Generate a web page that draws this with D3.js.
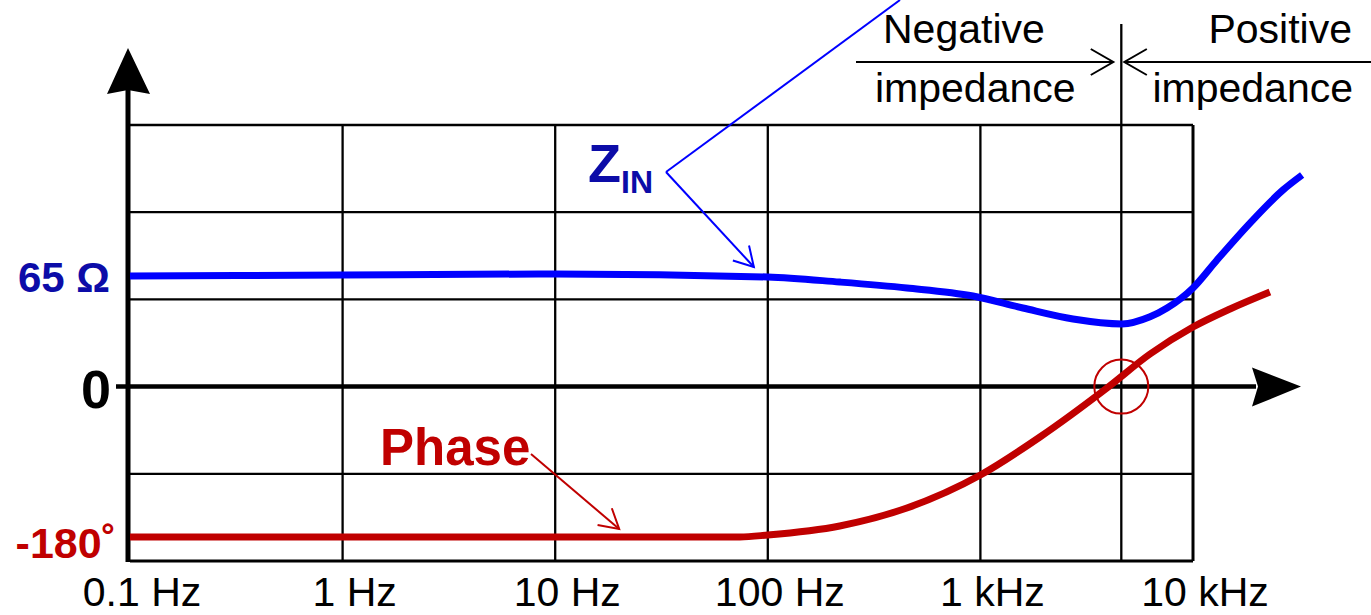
<!DOCTYPE html>
<html>
<head>
<meta charset="utf-8">
<script src="https://cdn.jsdelivr.net/npm/d3@7"></script>
<style>
  body { margin: 0; background: #fff; }
  svg { display: block; font-family: "Liberation Sans", Arial, sans-serif; }
</style>
</head>
<body>
<svg id="chart" width="1371" height="615"></svg>
<script>
// decade ticks on the frequency axis
const freqTicks = [0.1, 1, 10, 100, 1000, 10000];
const tickLabels = ["0.1 Hz", "1 Hz", "10 Hz", "100 Hz", "1 kHz", "10 kHz"];
// horizontal grid rows (in grid units, 0 = zero axis)
const gridRows = [-2, -1, 0, 1, 2, 3];

// input impedance magnitude (ohms) vs frequency (Hz)
const zinFreq = [0.1, 1, 10, 100, 218, 451, 923, 1585, 2728, 4634, 6280, 7550, 10000, 12970, 18540, 26500, 32600];
const zinOhm  = [65.6, 66.2, 66.8, 65, 62, 58.5, 53.7, 46.6, 40.1, 37.2, 41.4, 46.6, 58.5, 75.1, 97, 116.6, 125.5];

// phase (degrees) vs frequency (Hz)
const phaseFreq = [0.1, 74, 100, 218, 451, 1000, 1906, 3938, 6280, 10000, 14930, 23000];
const phaseDeg  = [-180, -180, -177.6, -166.8, -145.3, -105.8, -60.3, -1.7, 39, 71.3, 92.9, 113.2];

const crossoverHz = 4600;
const zLabel = 65;
const phaseLabel = -180;

const blue = "#0000ff", navy = "#0c0ca8", red = "#c00000";

let svg = d3.select("#chart");

let x = d3.scaleLog().domain([0.1, 10000]).range([130, 1193]);
let yRow = d3.scaleLinear().domain([-2, 3]).range([561, 125]);
let y0 = yRow(0);
let yZ = d3.scaleLinear().domain([0, 65]).range([y0, 277]);
let yP = d3.scaleLinear().domain([-180, 0]).range([537, y0]);

let gridTop = yRow(3), gridBottom = yRow(-2);

// line with an open V head at the end
function openArrow(g, x1, y1, x2, y2, color, len) {
  g.append("line")
    .attr("x1", x1).attr("y1", y1).attr("x2", x2).attr("y2", y2)
    .attr("stroke", color).attr("stroke-width", 2);
  let a = Math.atan2(y2 - y1, x2 - x1);
  let spread = Math.PI / 6;
  let pts = [
    [x2 - len * Math.cos(a - spread), y2 - len * Math.sin(a - spread)],
    [x2, y2],
    [x2 - len * Math.cos(a + spread), y2 - len * Math.sin(a + spread)]
  ];
  g.append("path")
    .attr("d", d3.line()(pts))
    .attr("fill", "none")
    .attr("stroke", color).attr("stroke-width", 2);
}

// grid
let grid = svg.append("g");
grid.selectAll(".hgrid")
  .data(gridRows.filter(d => d != 0))
  .enter()
  .append("line")
  .attr("x1", x(0.1)).attr("x2", x(10000))
  .attr("y1", d => yRow(d)).attr("y2", d => yRow(d))
  .attr("stroke", "#000").attr("stroke-width", d => d == -2 ? 3 : 2.3);

grid.selectAll(".vgrid")
  .data(freqTicks.slice(1))
  .enter()
  .append("line")
  .attr("x1", d => x(d)).attr("x2", d => x(d))
  .attr("y1", gridTop).attr("y2", gridBottom)
  .attr("stroke", "#000").attr("stroke-width", d => d == 10000 ? 3 : 2.3);

// crossover divider
grid.append("line")
  .attr("x1", x(crossoverHz)).attr("x2", x(crossoverHz))
  .attr("y1", 24).attr("y2", gridBottom)
  .attr("stroke", "#000").attr("stroke-width", 2.3);

// zero axis with arrow
svg.append("line")
  .attr("x1", 116).attr("x2", 1256)
  .attr("y1", y0).attr("y2", y0)
  .attr("stroke", "#000").attr("stroke-width", 4.5);
svg.append("path")
  .attr("d", d3.line()([[1252, y0 - 19], [1301, y0], [1252, y0 + 20], [1258, y0]]))
  .attr("fill", "#000");

// y axis with arrow
svg.append("line")
  .attr("x1", 128).attr("x2", 128)
  .attr("y1", gridBottom + 1).attr("y2", 90)
  .attr("stroke", "#000").attr("stroke-width", 5);
svg.append("path")
  .attr("d", d3.line()([[107, 94], [128, 48], [150, 94], [128, 90]]))
  .attr("fill", "#000");

// curves
let line = d3.line().curve(d3.curveMonotoneX);

svg.append("path")
  .attr("d", line(zinFreq.map((f, i) => [x(f), yZ(zinOhm[i])])))
  .attr("fill", "none")
  .attr("stroke", blue)
  .attr("stroke-width", 7);

svg.append("path")
  .attr("d", line(phaseFreq.map((f, i) => [x(f), yP(phaseDeg[i])])))
  .attr("fill", "none")
  .attr("stroke", red)
  .attr("stroke-width", 7);

// crossover circle
svg.append("circle")
  .attr("cx", x(crossoverHz)).attr("cy", y0)
  .attr("r", 27)
  .attr("fill", "none")
  .attr("stroke", red).attr("stroke-width", 2);

// tick labels
svg.selectAll(".tickLabel")
  .data(freqTicks)
  .enter()
  .append("text")
  .attr("x", d => x(d) + 12)
  .attr("y", 606)
  .attr("text-anchor", "middle")
  .style("font-size", "41px")
  .style("fill", "#000")
  .text((d, i) => tickLabels[i]);

// y labels
svg.append("text")
  .attr("x", 110).attr("y", yZ(zLabel) + 15)
  .attr("text-anchor", "end")
  .style("font-size", "42px").style("font-weight", "bold")
  .style("fill", navy)
  .text(zLabel + " Ω");

svg.append("text")
  .attr("x", 111).attr("y", y0 + 21)
  .attr("text-anchor", "end")
  .style("font-size", "54px").style("font-weight", "bold")
  .style("fill", "#000")
  .text("0");

svg.append("text")
  .attr("x", 116).attr("y", yP(phaseLabel) + 21)
  .attr("text-anchor", "end")
  .style("font-size", "43px").style("font-weight", "bold")
  .style("fill", red)
  .text(phaseLabel + "˚");

// Z_IN annotation
let zText = svg.append("text")
  .attr("x", 588).attr("y", 182)
  .style("font-weight", "bold")
  .style("fill", navy);
zText.append("tspan").style("font-size", "54px").text("Z");
zText.append("tspan").attr("y", 193).style("font-size", "32px").text("IN");

let ann = svg.append("g");
ann.append("line")
  .attr("x1", 666).attr("y1", 172).attr("x2", 900).attr("y2", 0)
  .attr("stroke", blue).attr("stroke-width", 2);
openArrow(ann, 666, 172, x(86), yZ(zinOhm[3]) - 10, blue, 22);

// Phase annotation
svg.append("text")
  .attr("x", 380).attr("y", 465)
  .style("font-size", "51px").style("font-weight", "bold")
  .style("fill", red)
  .text("Phase");
openArrow(ann, 531, 454, x(20), yP(-180) - 8, red, 22);

// negative / positive impedance labels
let hdr = svg.append("g").style("font-size", "41px").style("fill", "#000");
hdr.append("text").attr("x", 883).attr("y", 43).text("Negative");
hdr.append("text").attr("x", 875).attr("y", 102).text("impedance");
hdr.append("text").attr("x", 1352).attr("y", 43).attr("text-anchor", "end").text("Positive");
hdr.append("text").attr("x", 1353).attr("y", 102).attr("text-anchor", "end").text("impedance");

openArrow(hdr, 856, 62, x(crossoverHz) - 8, 62, "#000", 26);
openArrow(hdr, 1371, 62, x(crossoverHz) + 3, 62, "#000", 26);
</script>
</body>
</html>
